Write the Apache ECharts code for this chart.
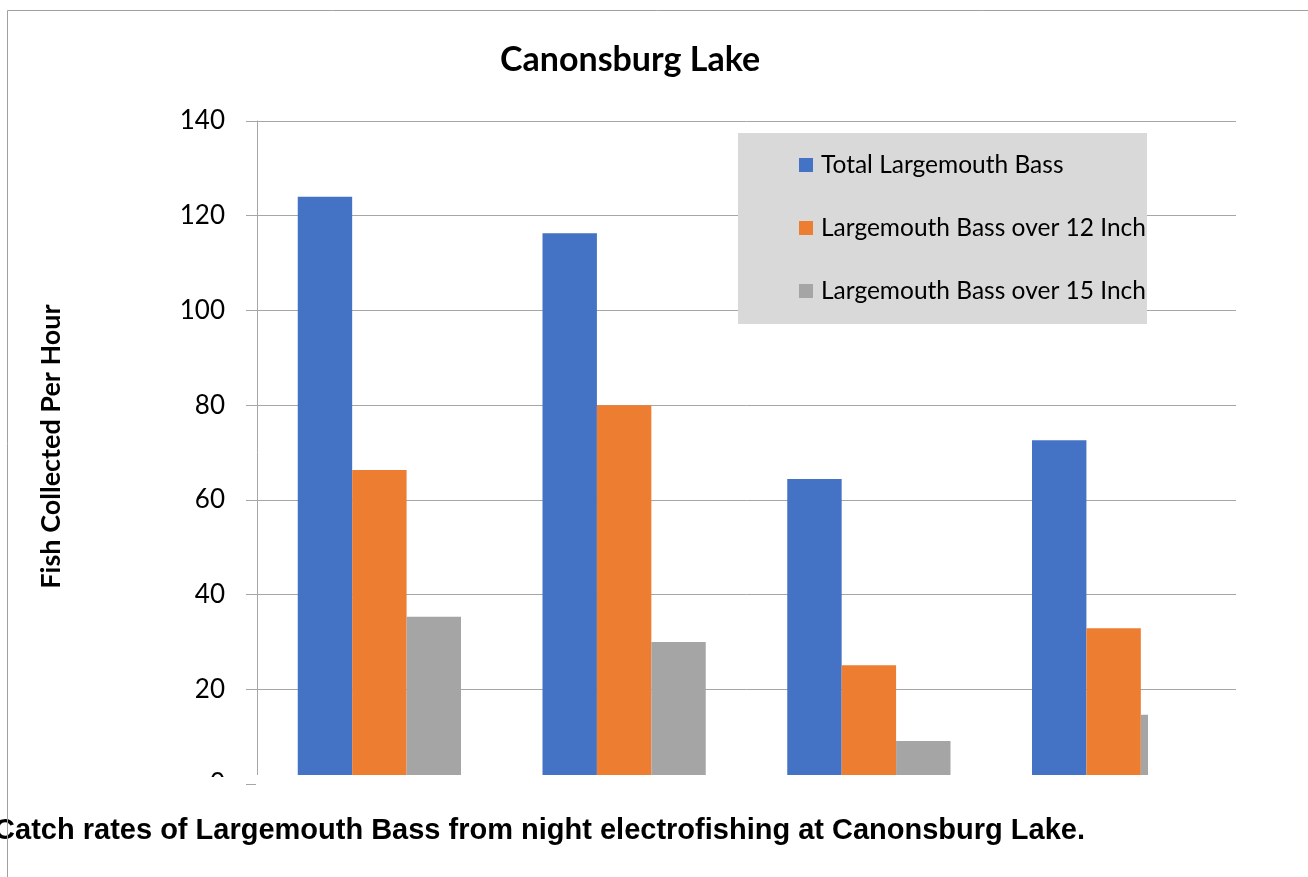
<!DOCTYPE html>
<html>
<head>
<meta charset="utf-8">
<title>Canonsburg Lake</title>
<script src="https://cdn.jsdelivr.net/npm/echarts@6/dist/echarts.min.js"></script>
<style>
  html, body { margin: 0; padding: 0; background: #fff; }
  #chart { width: 1308px; height: 877px; }
</style>
</head>
<body>
<div id="chart"></div>
<script>
// 数据
const surveys = ['Survey 1', 'Survey 2', 'Survey 3', 'Survey 4'];
const seriesNames = ['Total Largemouth Bass', 'Largemouth Bass over 12 Inches', 'Largemouth Bass over 15 Inches'];
const totalBass = [124, 116.3, 64.4, 72.6];
const over12 = [66.3, 80, 25.1, 32.9];
const over15 = [35.3, 30, 9.1, 14.6];
const yTicks = [0, 20, 40, 60, 80, 100, 120, 140];

const colors = ['#4472C4', '#ED7D31', '#A5A5A5'];
const calibriLike = 'Lato, "Open Sans", sans-serif';

let chart = echarts.init(document.getElementById('chart'));
let option = {
  animation: false,
  title: [
    {
      text: 'Canonsburg Lake',
      left: 500,
      top: 43,
      padding: 0,
      textStyle: {
        color: '#000',
        fontFamily: calibriLike,
        fontWeight: 'bold',
        fontSize: 34
      }
    },
    {
      // 下方说明文字，左侧被裁掉
      text: 'Catch rates of Largemouth Bass from night electrofishing at Canonsburg Lake.',
      right: 223,
      top: 816,
      padding: 0,
      textStyle: {
        color: '#000',
        fontFamily: '"Liberation Sans", Arial, sans-serif',
        fontWeight: 'bold',
        fontSize: 29
      }
    }
  ],
  legend: {
    orient: 'vertical',
    left: 738,
    top: 133,
    backgroundColor: '#d9d9d9',
    padding: [19, 0, 20, 61],
    itemWidth: 14,
    itemHeight: 14,
    itemGap: 37,
    icon: 'rect',
    data: seriesNames,
    textStyle: {
      color: '#000',
      fontFamily: calibriLike,
      fontSize: 24.5,
      lineHeight: 26,
      padding: [0, 0, 0, 3],
      width: 326,
      overflow: 'truncate',
      ellipsis: ''
    }
  },
  grid: {
    left: 257,
    right: 72,
    top: 121,
    bottom: 93
  },
  xAxis: {
    type: 'category',
    data: surveys,
    axisLine: { show: false },
    axisTick: { show: false },
    axisLabel: { show: false }
  },
  yAxis: {
    type: 'value',
    min: yTicks[0],
    max: yTicks[yTicks.length - 1],
    interval: yTicks[1] - yTicks[0],
    name: 'Fish Collected Per Hour',
    nameLocation: 'middle',
    nameRotate: 90,
    nameGap: 192,
    nameTextStyle: {
      color: '#000',
      fontFamily: calibriLike,
      fontWeight: 'bold',
      fontSize: 27,
      padding: [0, 0, 0, 12]
    },
    axisLine: {
      show: true,
      lineStyle: { color: '#a6a6a6', width: 1 }
    },
    axisTick: {
      show: true,
      length: 11,
      lineStyle: { color: '#a6a6a6', width: 1 }
    },
    axisLabel: {
      color: '#000',
      fontFamily: calibriLike,
      fontSize: 26,
      margin: 32
    },
    splitLine: {
      lineStyle: { color: '#a6a6a6', width: 1 }
    }
  },
  series: [
    {
      name: seriesNames[0],
      type: 'bar',
      data: totalBass,
      barGap: '0%',
      barCategoryGap: '33.3%',
      itemStyle: { color: colors[0] }
    },
    {
      name: seriesNames[1],
      type: 'bar',
      data: over12,
      barGap: '0%',
      barCategoryGap: '33.3%',
      itemStyle: { color: colors[1] }
    },
    {
      name: seriesNames[2],
      type: 'bar',
      data: over15,
      barGap: '0%',
      barCategoryGap: '33.3%',
      itemStyle: { color: colors[2] }
    }
  ],
  graphic: [
    // 底部被裁切的区域
    {
      type: 'rect',
      z: 100,
      shape: { x: 256, y: 775, width: 990, height: 30 },
      style: { fill: '#fff' }
    },
    {
      type: 'rect',
      z: 100,
      shape: { x: 195, y: 777, width: 50, height: 28 },
      style: { fill: '#fff' }
    },
    // 右侧被裁切的灰色柱
    {
      type: 'rect',
      z: 100,
      shape: { x: 1148, y: 695, width: 60, height: 85 },
      style: { fill: '#fff' }
    },
    // 外框线
    {
      type: 'polyline',
      z: 101,
      shape: { points: [[7.5, 877], [7.5, 10.5], [1308, 10.5]] },
      style: { stroke: '#a0a0a0', lineWidth: 1, fill: null }
    }
  ]
};
chart.setOption(option);
</script>
</body>
</html>
